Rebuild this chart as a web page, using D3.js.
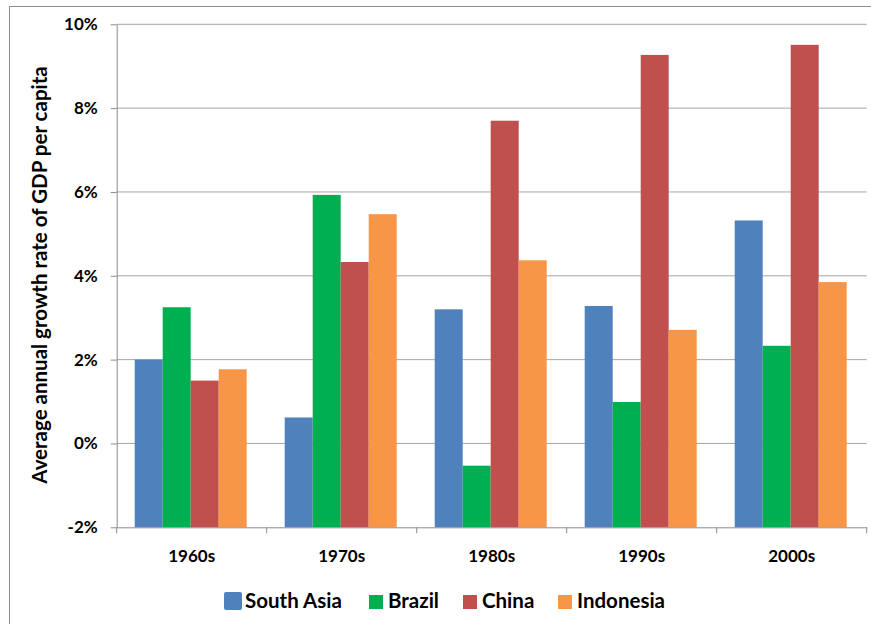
<!DOCTYPE html>
<head>
  <meta charset="utf-8">
  <style>
    body { margin: 0; background: #fff; }
    svg text { font-family: Lato, "Open Sans", sans-serif; font-weight: bold; fill: #000; }
    svg .grid line { stroke: #a6a6a6; stroke-width: 1px; }
    svg .axis path, svg .axis line { stroke: #8c8c8c; stroke-width: 1px; }
  </style>
</head>
<body>
<script src="https://d3js.org/d3.v7.min.js"></script>
<script>
  // data (percent)
  var decades = ["1960s", "1970s", "1980s", "1990s", "2000s"];
  var series = ["South Asia", "Brazil", "China", "Indonesia"];
  var southAsia = [2.0, 0.62, 3.2, 3.28, 5.32];
  var brazil    = [3.25, 5.93, -0.53, 0.99, 2.33];
  var china     = [1.5, 4.33, 7.7, 9.27, 9.51];
  var indonesia = [1.77, 5.47, 4.37, 2.71, 3.85];
  var yTicks = [-2, 0, 2, 4, 6, 8, 10];
  var colors = ["#4f81bd", "#00b050", "#c0504d", "#f79646"];

  var values = [southAsia, brazil, china, indonesia];

  var W = 871, H = 624,
      plotLeft = 116.7, plotRight = 866.7,
      plotTop = 24.3, plotBottom = 527.3;

  var svg = d3.select("body")
    .append("svg")
      .attr("width", W)
      .attr("height", H);

  // outer chart border
  svg.append("rect")
      .attr("x", 9.5)
      .attr("y", 6.5)
      .attr("width", W)
      .attr("height", H)
      .style("fill", "none")
      .style("stroke", "#8c8c8c");

  var x = d3.scaleBand().domain(decades).range([plotLeft, plotRight]);
  var xs = d3.scaleBand().domain(series).range([18, 130]);
  var y = d3.scaleLinear().domain([-2, 10]).range([plotBottom, plotTop]);

  // horizontal grid lines
  svg.append("g")
      .classed("grid", true)
    .selectAll("line")
    .data(yTicks.filter(function (d) { return d !== -2; }))
    .enter().append("line")
      .attr("x1", plotLeft)
      .attr("x2", plotRight)
      .attr("y1", function (d) { return y(d); })
      .attr("y2", function (d) { return y(d); });

  // bars, all drawn up from the axis at -2%
  series.forEach(function (s, i) {
    svg.append("g")
      .selectAll("rect")
      .data(values[i])
      .enter().append("rect")
        .attr("x", function (d, j) { return x(decades[j]) + xs(s); })
        .attr("width", xs.bandwidth())
        .attr("y", function (d) { return y(d); })
        .attr("height", function (d) { return y(-2) - y(d); })
        .style("fill", colors[i]);
  });

  // y axis
  var yAxis = d3.axisLeft(y)
      .tickValues(yTicks)
      .tickSize(6)
      .tickSizeOuter(0)
      .tickPadding(13)
      .tickFormat(function (d) { return d + "%"; });

  svg.append("g")
      .classed("axis", true)
      .attr("transform", "translate(" + plotLeft + ",0)")
      .call(yAxis)
    .selectAll("text")
      .style("font-size", "17px");

  // x axis with ticks between categories
  svg.append("g")
      .classed("axis", true)
      .attr("transform", "translate(0," + plotBottom + ")")
      .call(d3.axisBottom(x).tickSize(0).tickSizeOuter(0).tickPadding(23))
    .selectAll("text")
      .style("font-size", "17px");

  svg.append("g")
      .classed("axis", true)
    .selectAll("line")
    .data(decades.concat(["end"]))
    .enter().append("line")
      .attr("x1", function (d, i) { return plotLeft + i * x.step(); })
      .attr("x2", function (d, i) { return plotLeft + i * x.step(); })
      .attr("y1", plotBottom)
      .attr("y2", plotBottom + 6);

  // y axis title
  svg.append("text")
      .attr("transform", "translate(47," + 275 + ") rotate(-90)")
      .style("text-anchor", "middle")
      .style("font-size", "20.5px")
      .text("Average annual growth rate of GDP per capita");

  // legend
  var legendX = [224, 369, 463, 558];
  var legend = svg.append("g")
    .selectAll("g")
    .data(series)
    .enter().append("g")
      .attr("transform", function (d, i) { return "translate(" + legendX[i] + ",0)"; });

  legend.append("rect")
      .attr("y", function (d, i) { return i === 0 ? 592 : 595; })
      .attr("width", function (d, i) { return i === 0 ? 18 : 14; })
      .attr("height", function (d, i) { return i === 0 ? 18 : 14; })
      .attr("rx", function (d, i) { return i === 0 ? 2 : 0; })
      .style("fill", function (d, i) { return colors[i]; });

  legend.append("text")
      .attr("x", function (d, i) { return i === 0 ? 21 : 19; })
      .attr("y", 608)
      .style("font-size", "20.5px")
      .text(function (d) { return d; });
</script>
</body>
</html>
